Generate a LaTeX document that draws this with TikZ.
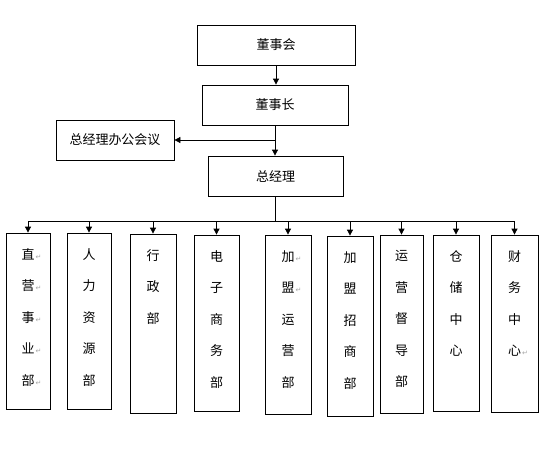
\documentclass[tikz,border=0pt]{standalone}
\usepackage{fontspec}
\newfontfamily\cjk{Noto Sans CJK SC}
\newfontfamily\markfont{DejaVu Sans}
\usetikzlibrary{arrows.meta}
\newcommand{\pmark}{\rlap{\markfont\fontsize{7}{7}\selectfont\color{gray!70}\,↵}}

\tikzset{
  box/.style={draw, line width=0.8pt, inner sep=0pt},
  topbox/.style={box, minimum height=40pt},
  deptlabel/.style={anchor=north, inner sep=0pt, align=center,
    font=\cjk\fontsize{13}{31.5}\selectfont, yshift=-15.5pt},
  dept/.style={box, label={[deptlabel]north:#1}},
  arr/.style={-{Triangle[length=6pt,width=6pt]}, line width=0.8pt},
}

\begin{document}
\begin{tikzpicture}[x=1pt, y=-1pt, every node/.style={font=\cjk\fontsize{13}{16}\selectfont}]
\useasboundingbox (0,0) rectangle (544,464);
% Top: board and management
\node[topbox, minimum width=158pt] (dsh) at (276,45) {董事会};
\node[topbox, minimum width=146pt] (dsz) at (275,105) {董事长};
\node[topbox, minimum width=118pt] (bgh) at (115,140) {总经理办公会议};
\node[topbox, minimum width=135pt] (zjl) at (275.5,176) {总经理};
% Departments
\node[dept={直\pmark\\营\pmark\\事\pmark\\业\pmark\\部\pmark}, minimum width=44pt, minimum height=176pt] (zyb) at (28,321) {};
\node[dept={人\\力\\资\\源\\部}, minimum width=44pt, minimum height=176pt] (rlb) at (89,321) {};
\node[dept={行\\政\\部}, minimum width=46pt, minimum height=179pt] (xzb) at (153,323.5) {};
\node[dept={电\\子\\商\\务\\部}, minimum width=45pt, minimum height=176pt] (dzb) at (216.5,323) {};
\node[dept={加\pmark\\盟\pmark\\运\\营\\部}, minimum width=46pt, minimum height=179pt] (jyb) at (288,324.5) {};
\node[dept={加\\盟\\招\\商\\部}, minimum width=46pt, minimum height=180pt] (jzb) at (350,326) {};
\node[dept={运\\营\\督\\导\\部}, minimum width=43pt, minimum height=178pt] (ydb) at (401.5,324) {};
\node[dept={仓\\储\\中\\心}, minimum width=46pt, minimum height=176pt] (cczx) at (456,323) {};
\node[dept={财\\务\\中\\心\pmark}, minimum width=47pt, minimum height=177pt] (cwzx) at (514.5,323.5) {};

% Chain of command
\draw[arr] (dsh.south) -- (dsh.south |- dsz.north);
\draw[arr] (dsz.south) -- (dsz.south |- zjl.north);
\coordinate (br) at (dsz.south |- bgh.east);
\draw[arr] (br) -- (bgh.east);

% Bus to departments
\coordinate (bus) at (276,221.5);
\draw[line width=0.8pt] (zjl.south) -- (zjl.south |- bus);
\draw[line width=0.8pt] (bus -| zyb.north) -- (bus -| cwzx.north);
\draw[arr] (bus -| zyb.north) -- (zyb.north);
\draw[arr] (bus -| rlb.north) -- (rlb.north);
\draw[arr] (bus -| xzb.north) -- (xzb.north);
\draw[arr] (bus -| dzb.north) -- (dzb.north);
\draw[arr] (bus -| jyb.north) -- (jyb.north);
\draw[arr] (bus -| jzb.north) -- (jzb.north);
\draw[arr] (bus -| ydb.north) -- (ydb.north);
\draw[arr] (bus -| cczx.north) -- (cczx.north);
\draw[arr] (bus -| cwzx.north) -- (cwzx.north);
\end{tikzpicture}
\end{document}
